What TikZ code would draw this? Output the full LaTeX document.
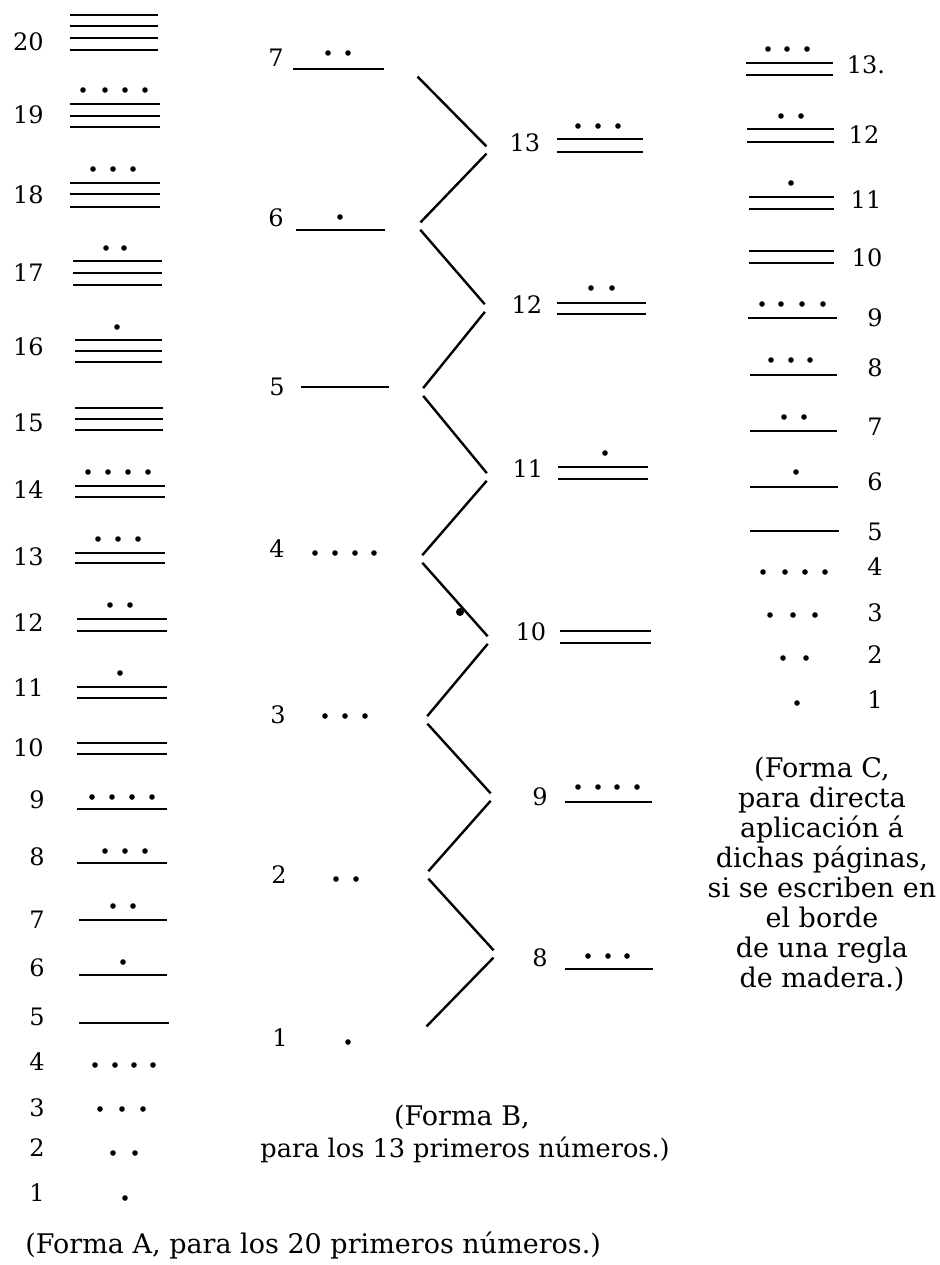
\documentclass[tikz,border=0pt]{standalone}
\usepackage{fontspec}
\setmainfont{DejaVu Serif}
\begin{document}
\begin{tikzpicture}[x=0.5pt,y=-0.5pt,
    mbar/.style={line width=1.1pt},
    num/.style={font=\fontsize{12}{14}\selectfont, inner sep=0pt},
    zig/.style={line width=1.2pt, shorten <=2.5pt, shorten >=2.5pt},
    capt/.style={font=\fontsize{13.5}{15}\selectfont, inner sep=0pt, align=center}]
  \useasboundingbox (0,0) rectangle (940,1265);

  % Forma A
  \node[num, anchor=east] (a20) at (44,42) {20};
  \foreach \y in {15,26,38,50} \draw[mbar] (70,\y) -- (158,\y);

  \node[num, anchor=east] (a19) at (44,115) {19};
  \foreach \x in {83,105,125,145} \fill (\x,90) circle (1.4pt);
  \foreach \y in {104,116,127} \draw[mbar] (70,\y) -- (160,\y);

  \node[num, anchor=east] (a18) at (44,195) {18};
  \foreach \x in {93,113,133} \fill (\x,169) circle (1.4pt);
  \foreach \y in {183,194,207} \draw[mbar] (70,\y) -- (160,\y);

  \node[num, anchor=east] (a17) at (44,273) {17};
  \foreach \x in {106,124} \fill (\x,248) circle (1.4pt);
  \foreach \y in {261,273,285} \draw[mbar] (73,\y) -- (162,\y);

  \node[num, anchor=east] (a16) at (44,347) {16};
  \fill (117,327) circle (1.4pt);
  \foreach \y in {340,351,362} \draw[mbar] (75,\y) -- (162,\y);

  \node[num, anchor=east] (a15) at (44,423) {15};
  \foreach \y in {408,419,430} \draw[mbar] (75,\y) -- (163,\y);

  \node[num, anchor=east] (a14) at (44,490) {14};
  \foreach \x in {88,108,128,148} \fill (\x,472) circle (1.4pt);
  \foreach \y in {486,497} \draw[mbar] (75,\y) -- (165,\y);

  \node[num, anchor=east] (a13) at (44,557) {13};
  \foreach \x in {98,118,138} \fill (\x,539) circle (1.4pt);
  \foreach \y in {553,563} \draw[mbar] (75,\y) -- (165,\y);

  \node[num, anchor=east] (a12) at (44,623) {12};
  \foreach \x in {110,130} \fill (\x,605) circle (1.4pt);
  \foreach \y in {619,631} \draw[mbar] (77,\y) -- (167,\y);

  \node[num, anchor=east] (a11) at (44,688) {11};
  \fill (120,673) circle (1.4pt);
  \foreach \y in {687,698} \draw[mbar] (77,\y) -- (167,\y);

  \node[num, anchor=east] (a10) at (44,748) {10};
  \foreach \y in {743,754} \draw[mbar] (77,\y) -- (167,\y);

  \node[num, anchor=east] (a9) at (45,800) {9};
  \foreach \x in {92,112,132,152} \fill (\x,797) circle (1.4pt);
  \draw[mbar] (77,809) -- (167,809);

  \node[num, anchor=east] (a8) at (45,857) {8};
  \foreach \x in {105,125,145} \fill (\x,851) circle (1.4pt);
  \draw[mbar] (77,863) -- (167,863);

  \node[num, anchor=east] (a7) at (45,920) {7};
  \foreach \x in {113,133} \fill (\x,906) circle (1.4pt);
  \draw[mbar] (79,920) -- (167,920);

  \node[num, anchor=east] (a6) at (45,968) {6};
  \fill (123,962) circle (1.4pt);
  \draw[mbar] (79,975) -- (167,975);

  \node[num, anchor=east] (a5) at (45,1017) {5};
  \draw[mbar] (79,1023) -- (169,1023);

  \node[num, anchor=east] (a4) at (45,1062) {4};
  \foreach \x in {95,115,134,153} \fill (\x,1065) circle (1.4pt);

  \node[num, anchor=east] (a3) at (45,1108) {3};
  \foreach \x in {100,122,143} \fill (\x,1109) circle (1.4pt);

  \node[num, anchor=east] (a2) at (45,1148) {2};
  \foreach \x in {113,135} \fill (\x,1153) circle (1.4pt);

  \node[num, anchor=east] (a1) at (45,1193) {1};
  \fill (125,1198) circle (1.4pt);

  \node[capt, anchor=west] (capA) at (25,1245) {(Forma A, para los 20 primeros números.)};

  % Forma B, izquierda
  \node[num] (b7) at (276,58) {7};
  \foreach \x in {328,348} \fill (\x,53) circle (1.4pt);
  \draw[mbar] (293,69) -- (384,69);

  \node[num] (b6) at (276,218) {6};
  \fill (340,217) circle (1.4pt);
  \draw[mbar] (296,230) -- (385,230);

  \node[num] (b5) at (277,387) {5};
  \draw[mbar] (301,387) -- (389,387);

  \node[num] (b4) at (277,549) {4};
  \foreach \x in {315,335,355,374} \fill (\x,553) circle (1.4pt);

  \node[num] (b3) at (278,715) {3};
  \foreach \x in {325,345,365} \fill (\x,716) circle (1.4pt);

  \node[num] (b2) at (279,875) {2};
  \foreach \x in {336,356} \fill (\x,879) circle (1.4pt);

  \node[num] (b1) at (280,1038) {1};
  \fill (348,1042) circle (1.4pt);

  % Forma B, derecha
  \node[num] (b13) at (525,143) {13};
  \foreach \x in {578,598,618} \fill (\x,126) circle (1.4pt);
  \foreach \y in {139,152} \draw[mbar] (557,\y) -- (643,\y);

  \node[num] (b12) at (527,305) {12};
  \foreach \x in {591,612} \fill (\x,288) circle (1.4pt);
  \foreach \y in {303,314} \draw[mbar] (557,\y) -- (646,\y);

  \node[num] (b11) at (528,469) {11};
  \fill (605,453) circle (1.4pt);
  \foreach \y in {467,479} \draw[mbar] (558,\y) -- (648,\y);

  \node[num] (b10) at (531,632) {10};
  \foreach \y in {631,643} \draw[mbar] (560,\y) -- (651,\y);

  \node[num] (b9) at (540,797) {9};
  \foreach \x in {578,598,617,637} \fill (\x,787) circle (1.4pt);
  \draw[mbar] (565,802) -- (652,802);

  \node[num] (b8) at (540,958) {8};
  \foreach \x in {588,608,627} \fill (\x,956) circle (1.4pt);
  \draw[mbar] (565,969) -- (653,969);

  % zigzag
  \coordinate (t7) at (414,73);
  \coordinate (r13) at (490,150);
  \coordinate (l6) at (417,226);
  \coordinate (r12) at (488,308);
  \coordinate (l5) at (420,392);
  \coordinate (r11) at (490,477);
  \coordinate (l4) at (419,559);
  \coordinate (r10) at (491,640);
  \coordinate (l3) at (424,720);
  \coordinate (r9) at (494,797);
  \coordinate (l2) at (425,875);
  \coordinate (r8) at (497,954);
  \coordinate (l1) at (423,1030);
  \foreach \p/\q in {t7/r13, r13/l6, l6/r12, r12/l5, l5/r11, r11/l4,
                     l4/r10, r10/l3, l3/r9, r9/l2, l2/r8, r8/l1}
    \draw[zig] (\p) -- (\q);
  \fill (460,612) circle (2pt);

  \node[capt] (capB1) at (462,1117) {(Forma B,};
  \node[capt, anchor=west, font=\fontsize{12.8}{15}\selectfont] (capB2) at (260,1150) {para los 13 primeros números.)};

  % Forma C
  \node[num] (c13) at (866,65) {13.};
  \foreach \x in {768,787,807} \fill (\x,49) circle (1.4pt);
  \foreach \y in {63,75} \draw[mbar] (746,\y) -- (833,\y);

  \node[num] (c12) at (864,135) {12};
  \foreach \x in {781,801} \fill (\x,116) circle (1.4pt);
  \foreach \y in {129,142} \draw[mbar] (747,\y) -- (834,\y);

  \node[num] (c11) at (866,200) {11};
  \fill (791,183) circle (1.4pt);
  \foreach \y in {197,209} \draw[mbar] (749,\y) -- (834,\y);

  \node[num] (c10) at (867,258) {10};
  \foreach \y in {251,263} \draw[mbar] (749,\y) -- (834,\y);

  \node[num] (c9) at (875,318) {9};
  \foreach \x in {762,781,802,823} \fill (\x,304) circle (1.4pt);
  \draw[mbar] (748,318) -- (837,318);

  \node[num] (c8) at (875,368) {8};
  \foreach \x in {771,791,810} \fill (\x,360) circle (1.4pt);
  \draw[mbar] (750,375) -- (837,375);

  \node[num] (c7) at (875,427) {7};
  \foreach \x in {784,804} \fill (\x,417) circle (1.4pt);
  \draw[mbar] (750,431) -- (837,431);

  \node[num] (c6) at (875,482) {6};
  \fill (796,472) circle (1.4pt);
  \draw[mbar] (750,487) -- (838,487);

  \node[num] (c5) at (875,532) {5};
  \draw[mbar] (750,531) -- (839,531);

  \node[num] (c4) at (875,567) {4};
  \foreach \x in {763,785,805,825} \fill (\x,572) circle (1.4pt);

  \node[num] (c3) at (875,613) {3};
  \foreach \x in {770,793,815} \fill (\x,615) circle (1.4pt);

  \node[num] (c2) at (875,655) {2};
  \foreach \x in {783,806} \fill (\x,658) circle (1.4pt);

  \node[num] (c1) at (875,700) {1};
  \fill (797,703) circle (1.4pt);

  \node[capt] (capC) at (822,874) {(Forma C,\\ para directa\\ aplicación á\\ dichas páginas,\\
    si se escriben en\\ el borde\\ de una regla\\ de madera.)};
\end{tikzpicture}
\end{document}
